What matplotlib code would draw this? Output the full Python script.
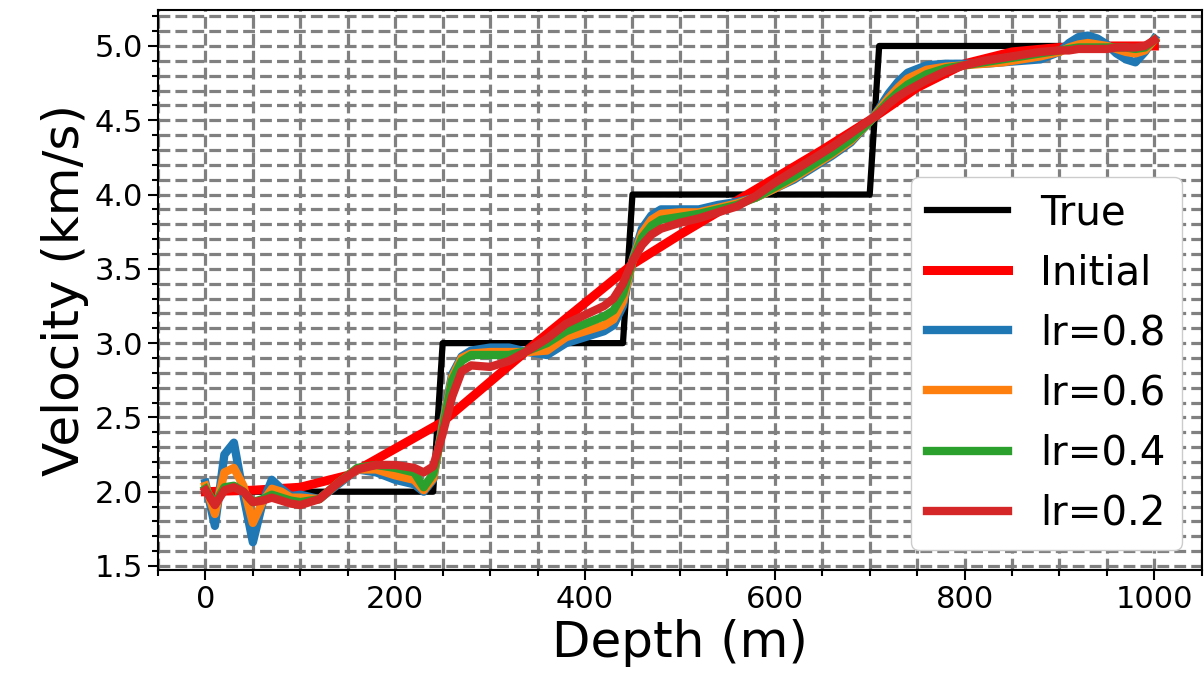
import matplotlib
matplotlib.use("Agg")
import matplotlib.pyplot as plt
from matplotlib.ticker import MultipleLocator

# True layered model (step profile)
true_depth = [0, 240, 250, 440, 450, 700, 710, 1000]
true_vel = [2.0, 2.0, 3.0, 3.0, 4.0, 4.0, 5.0, 5.0]

# Smooth starting model
init_depth = [0, 50, 100, 150, 200, 250, 300, 350, 400, 450, 500, 550,
              600, 650, 700, 750, 800, 850, 900, 950, 1000]
init_vel = [2.00, 2.01, 2.03, 2.11, 2.29, 2.47, 2.74, 3.01, 3.27, 3.53, 3.73, 3.92,
            4.11, 4.30, 4.50, 4.72, 4.88, 4.96, 4.99, 5.00, 5.00]

# Inverted models for each learning rate
depth = [0, 10, 20, 30, 40, 50, 60, 70, 80, 90, 100,
         120, 140, 160, 180, 200, 220, 230, 240, 250, 260, 270, 280,
         300, 320, 340, 360, 380, 400, 420, 430, 440, 450, 460, 470, 480,
         500, 520, 540, 560, 580, 600, 620, 640, 660, 680, 700, 710, 720, 730, 740,
         760, 780, 800, 820, 840, 860, 880, 900, 910, 920, 930, 940, 950, 960, 970, 980, 990, 1000]

vel_lr08 = [2.06, 1.77, 2.25, 2.33, 1.98, 1.66, 1.92, 2.08, 2.02, 1.97, 1.98,
            1.95, 2.05, 2.15, 2.13, 2.08, 2.05, 2.00, 2.08, 2.46, 2.79, 2.91, 2.95,
            2.97, 2.97, 2.94, 2.92, 3.00, 3.04, 3.08, 3.12, 3.25, 3.56, 3.77, 3.86, 3.90,
            3.90, 3.90, 3.93, 3.95, 3.98, 4.04, 4.10, 4.18, 4.26, 4.35, 4.49, 4.58, 4.68, 4.76, 4.82,
            4.87, 4.88, 4.88, 4.88, 4.89, 4.90, 4.91, 4.96, 5.02, 5.06, 5.07, 5.05, 5.01, 4.95, 4.91, 4.89, 4.96, 5.05]

vel_lr06 = [2.04, 1.85, 2.13, 2.16, 2.04, 1.79, 1.93, 2.02, 2.00, 1.96, 1.96,
            1.95, 2.06, 2.15, 2.15, 2.11, 2.08, 2.01, 2.09, 2.44, 2.77, 2.90, 2.93,
            2.94, 2.94, 2.94, 2.95, 3.04, 3.08, 3.12, 3.16, 3.28, 3.55, 3.74, 3.83, 3.87,
            3.88, 3.88, 3.91, 3.94, 3.98, 4.04, 4.11, 4.19, 4.27, 4.36, 4.49, 4.57, 4.65, 4.72, 4.78,
            4.84, 4.86, 4.87, 4.88, 4.89, 4.91, 4.93, 4.96, 4.99, 5.01, 5.02, 5.01, 5.00, 4.98, 4.96, 4.95, 4.97, 5.04]

vel_lr04 = [2.02, 1.92, 2.03, 2.04, 2.00, 1.93, 1.95, 1.98, 1.96, 1.94, 1.93,
            1.95, 2.06, 2.16, 2.18, 2.16, 2.13, 2.03, 2.12, 2.42, 2.75, 2.88, 2.92,
            2.92, 2.92, 2.95, 3.00, 3.08, 3.13, 3.18, 3.22, 3.33, 3.55, 3.71, 3.79, 3.83,
            3.85, 3.87, 3.90, 3.93, 3.98, 4.05, 4.12, 4.20, 4.28, 4.37, 4.49, 4.56, 4.63, 4.69, 4.74,
            4.81, 4.85, 4.87, 4.89, 4.91, 4.93, 4.95, 4.97, 4.98, 4.99, 4.99, 4.99, 4.99, 4.99, 4.99, 4.98, 4.99, 5.04]

vel_lr02 = [2.01, 1.91, 2.01, 2.03, 2.00, 1.93, 1.94, 1.96, 1.94, 1.92, 1.91,
            1.95, 2.06, 2.15, 2.18, 2.18, 2.16, 2.13, 2.17, 2.39, 2.64, 2.81, 2.85,
            2.84, 2.88, 2.95, 3.03, 3.13, 3.19, 3.25, 3.30, 3.40, 3.55, 3.66, 3.73, 3.77,
            3.81, 3.84, 3.88, 3.92, 3.99, 4.08, 4.16, 4.24, 4.32, 4.41, 4.50, 4.55, 4.61, 4.66, 4.70,
            4.77, 4.83, 4.87, 4.90, 4.92, 4.94, 4.96, 4.97, 4.97, 4.98, 4.98, 4.98, 4.98, 4.99, 4.99, 4.99, 5.00, 5.04]

fig = plt.figure(figsize=(12.04, 6.91), dpi=100)
ax = fig.add_axes([0.1312, 0.1751, 0.867, 0.8104])

ax.plot(true_depth, true_vel, color='black', lw=4.5, label='True')
ax.plot(init_depth, init_vel, color='red', lw=6.5, label='Initial')
ax.plot(depth, vel_lr08, color='tab:blue', lw=6, label='lr=0.8')
ax.plot(depth, vel_lr06, color='tab:orange', lw=6, label='lr=0.6')
ax.plot(depth, vel_lr04, color='tab:green', lw=6, label='lr=0.4')
ax.plot(depth, vel_lr02, color='tab:red', lw=6, label='lr=0.2')

ax.set_xlim(-50, 1050)
ax.set_ylim(1.473, 5.242)
ax.xaxis.set_major_locator(MultipleLocator(200))
ax.xaxis.set_minor_locator(MultipleLocator(50))
ax.yaxis.set_major_locator(MultipleLocator(0.5))
ax.yaxis.set_minor_locator(MultipleLocator(0.1))

# dashed grid on both major and minor ticks
ax.grid(True, which='both', color='gray', linestyle='--', linewidth=2.3)
ax.set_axisbelow(True)
ax.tick_params(which='major', labelsize=22, length=7, width=1.5)
ax.tick_params(which='minor', length=4, width=1.5)
for sp in ax.spines.values():
    sp.set_linewidth(1.5)

ax.set_xlabel('Depth (m)', fontsize=36)
ax.set_ylabel('Velocity (km/s)', fontsize=36)
ax.legend(loc='lower right', fontsize=29, framealpha=1)

fig.savefig('out.png', dpi=100)
